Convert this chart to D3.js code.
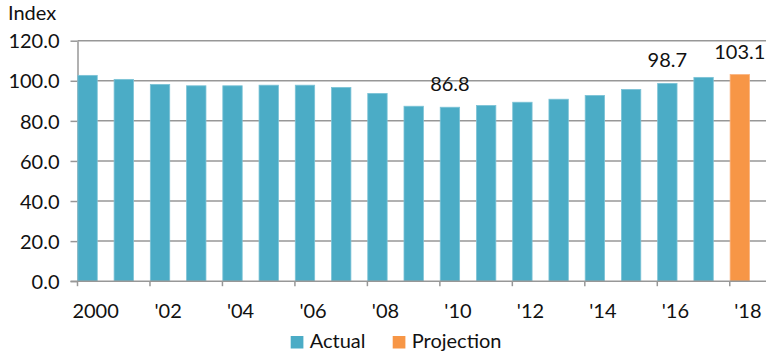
<!DOCTYPE html>
<html>
<head>
<meta charset="utf-8">
<script src="https://cdn.jsdelivr.net/npm/d3@7"></script>
<style>
  html, body { margin: 0; padding: 0; background: #fff; }
  svg text { font-family: Lato, "Liberation Sans", sans-serif; fill: #111; }
</style>
</head>
<body>
<svg id="chart" width="784" height="356"></svg>
<script>
const years = ["2000","2001","2002","2003","2004","2005","2006","2007","2008","2009",
               "2010","2011","2012","2013","2014","2015","2016","2017","2018"];
const xTickLabels = ["2000","'02","'04","'06","'08","'10","'12","'14","'16","'18"];
const actualValues = [102.7, 100.7, 98.2, 97.5, 97.5, 97.8, 97.8, 96.7, 93.7, 87.3,
                      86.8, 87.7, 89.3, 90.8, 92.7, 95.7, 98.7, 101.7, null];
const projectionValues = [null, null, null, null, null, null, null, null, null, null,
                          null, null, null, null, null, null, null, null, 103.1];
const labelledYears = ["2010", "2016", "2018"];
const yTicks = [0, 20, 40, 60, 80, 100, 120];
const seriesNames = ["Actual", "Projection"];
const seriesColors = ["#4bacc6", "#f79646"];
const seriesStrokes = ["#7cc3d6", "#fab27e"];

const svg = d3.select("#chart");
const pLeft = 77.5, pRight = 766, pTop = 40.7, pBottom = 281.2;

const x = d3.scaleBand().domain(years).range([pLeft, pRight]).paddingInner(0).paddingOuter(0);
const y = d3.scaleLinear().domain([0, 120]).range([pBottom, pTop]);
const bw = x.bandwidth();

// gridlines
svg.append("g").selectAll("line").data(yTicks.filter(d => d > 0)).join("line")
  .attr("x1", pLeft).attr("x2", pRight)
  .attr("y1", d => y(d)).attr("y2", d => y(d))
  .attr("stroke", "#979797").attr("stroke-width", 1.5);

// y axis
const yAxis = svg.append("g").attr("transform", `translate(${pLeft},0)`)
  .call(d3.axisLeft(y).tickValues(yTicks).tickFormat(d3.format(".1f")).tickSize(7).tickSizeOuter(0));
yAxis.select(".domain").attr("stroke", "#979797").attr("stroke-width", 1.5);
yAxis.selectAll(".tick line").attr("stroke", "#979797").attr("stroke-width", 1.5);
yAxis.selectAll(".tick text").attr("x", -18).attr("dy", "0.36em")
  .style("font-size", "20px").attr("fill", "#111");

// bars
const data = years.map((yr, i) => ({ yr, a: actualValues[i], p: projectionValues[i] }));
const barW = bw * 0.535;
const barOff = bw * 0.01;
svg.append("g").selectAll("rect.actual").data(data.filter(d => d.a != null)).join("rect")
  .attr("class", "actual")
  .attr("x", d => x(d.yr) + barOff).attr("width", barW)
  .attr("y", d => y(d.a)).attr("height", d => y(0) - y(d.a))
  .attr("fill", seriesColors[0]).attr("stroke", seriesStrokes[0]).attr("stroke-width", 0.8);
svg.append("g").selectAll("rect.proj").data(data.filter(d => d.p != null)).join("rect")
  .attr("class", "proj")
  .attr("x", d => x(d.yr) + barOff).attr("width", barW)
  .attr("y", d => y(d.p)).attr("height", d => y(0) - y(d.p))
  .attr("fill", seriesColors[1]).attr("stroke", seriesStrokes[1]).attr("stroke-width", 0.8);

// x axis
const tickYears = years.filter((d, i) => i % 2 === 0);
const xAxis = svg.append("g").attr("transform", `translate(0,${pBottom})`)
  .call(d3.axisBottom(x).tickValues(tickYears)
    .tickFormat((d, i) => xTickLabels[i]).tickSize(5).tickSizeOuter(0));
xAxis.select(".domain").attr("stroke", "#979797").attr("stroke-width", 1.5)
  .attr("d", `M${pLeft - 7},0H${pRight}`);
xAxis.selectAll(".tick line").attr("stroke", "#979797").attr("stroke-width", 1.5)
  .attr("x1", -bw / 2).attr("x2", -bw / 2);
xAxis.selectAll(".tick text").attr("y", 23).attr("dy", "0.71em")
  .style("font-size", "20px").attr("fill", "#111");

// value labels
svg.append("g").selectAll("text").data(data.filter(d => labelledYears.includes(d.yr))).join("text")
  .attr("x", d => x(d.yr) + barOff + barW / 2)
  .attr("y", d => y(d.p != null ? d.p : d.a) - 16)
  .attr("text-anchor", "middle")
  .style("font-size", "20px")
  .text(d => d3.format(".1f")(d.p != null ? d.p : d.a));

// y title
svg.append("text").attr("x", 8).attr("y", 20).style("font-size", "20px").text("Index");

// legend
const legendX = [290.7, 392.7];
const lg = svg.append("g").selectAll("g").data(seriesNames).join("g")
  .attr("transform", (d, i) => `translate(${legendX[i]},336)`);
lg.append("rect").attr("width", 12.7).attr("height", 12.5).attr("fill", (d, i) => seriesColors[i]);
lg.append("text").attr("x", 19).attr("y", 12.3).style("font-size", "20px").text(d => d);
</script>
</body>
</html>
